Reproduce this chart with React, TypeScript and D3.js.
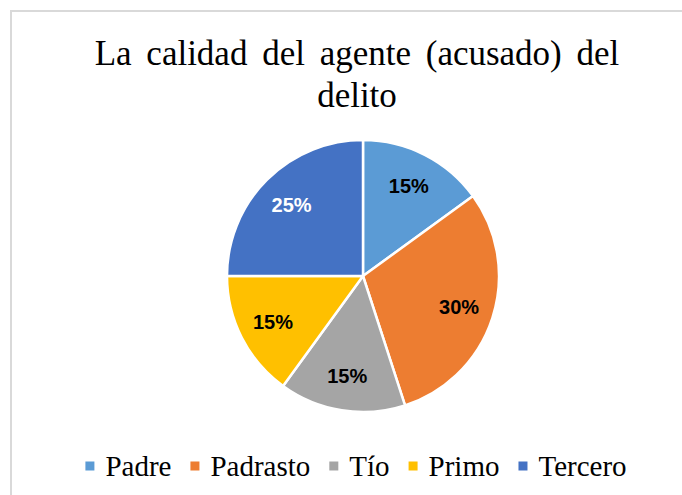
import React from "react";
import * as d3 from "d3";

const categories = ["Padre", "Padrasto", "Tío", "Primo", "Tercero"];
const values = [15, 30, 15, 15, 25];
const labels = ["15%", "30%", "15%", "15%", "25%"];
const colors = ["#5B9BD5", "#ED7D31", "#A5A5A5", "#FFC000", "#4472C4"];
const labelColors = ["#000000", "#000000", "#000000", "#000000", "#FFFFFF"];
const titleLines = ["La calidad del agente (acusado) del", "delito"];

const W = 682;
const H = 495;
const SERIF = '"Liberation Serif", "Times New Roman", Tinos, "DejaVu Serif", serif';

function measure(text: string, font: string): number {
  if (typeof document === "undefined") return text.length * 14;
  const c = document.createElement("canvas");
  const ctx = c.getContext("2d");
  if (!ctx) return text.length * 14;
  ctx.font = font;
  return ctx.measureText(text).width;
}

export default function App() {
  const cx = 363;
  const cy = 276;
  const R = 136;
  const labelR = 101;

  const pie = d3
    .pie<number>()
    .value((d) => d)
    .sort(null)
    .startAngle(0)
    .endAngle(2 * Math.PI);
  const arcs = pie(values);
  const arcGen = d3.arc<d3.PieArcDatum<number>>().innerRadius(0).outerRadius(R);
  const labelArc = d3
    .arc<d3.PieArcDatum<number>>()
    .innerRadius(labelR)
    .outerRadius(labelR);

  const legendFont = "29px " + SERIF;
  const marker = 9;
  const mGap = 11;
  const itemGap = 19;
  const widths = categories.map((c) => measure(c, legendFont));
  const total =
    widths.reduce((a, b) => a + b, 0) +
    categories.length * (marker + mGap) +
    (categories.length - 1) * itemGap;
  let x0 = 356 - total / 2;
  const legendItems = categories.map((c, i) => {
    const x = x0;
    x0 += marker + mGap + widths[i] + itemGap;
    return { c, x, i };
  });

  return (
    <svg
      width={W}
      height={H}
      style={{ position: "absolute", left: 0, top: 0, background: "#fff" }}
    >
      <rect x={0} y={0} width={W} height={H} fill="#fff" />
      <rect
        x={11}
        y={11}
        width={W + 20}
        height={H + 20}
        fill="none"
        stroke="#D9D9D9"
        strokeWidth={2}
      />
      {titleLines.map((t, i) => (
        <text
          key={i}
          x={357}
          y={65 + i * 42}
          textAnchor="middle"
          style={{ fontFamily: SERIF }}
          fontSize={35}
          wordSpacing={i === 0 ? 6 : 0}
          fill="#000"
        >
          {t}
        </text>
      ))}
      <g transform={`translate(${cx},${cy})`}>
        {arcs.map((a, i) => (
          <path
            key={i}
            d={arcGen(a) || ""}
            fill={colors[i]}
            stroke="#fff"
            strokeWidth={2.5}
            strokeLinejoin="round"
          />
        ))}
        {arcs.map((a, i) => {
          const [lx, ly] = labelArc.centroid(a);
          return (
            <text
              key={i}
              x={lx}
              y={ly}
              textAnchor="middle"
              dominantBaseline="central"
              style={{ fontFamily: '"Liberation Sans", Arial, sans-serif' }}
              fontWeight="bold"
              fontSize={20}
              fill={labelColors[i]}
            >
              {labels[i]}
            </text>
          );
        })}
      </g>
      {legendItems.map(({ c, x, i }) => (
        <g key={c}>
          <rect
            x={x}
            y={461.5}
            width={marker}
            height={marker}
            fill={colors[i]}
          />
          <text
            x={x + marker + mGap}
            y={475.5}
            style={{ fontFamily: SERIF }}
            fontSize={29}
            fill="#000"
          >
            {c}
          </text>
        </g>
      ))}
    </svg>
  );
}
